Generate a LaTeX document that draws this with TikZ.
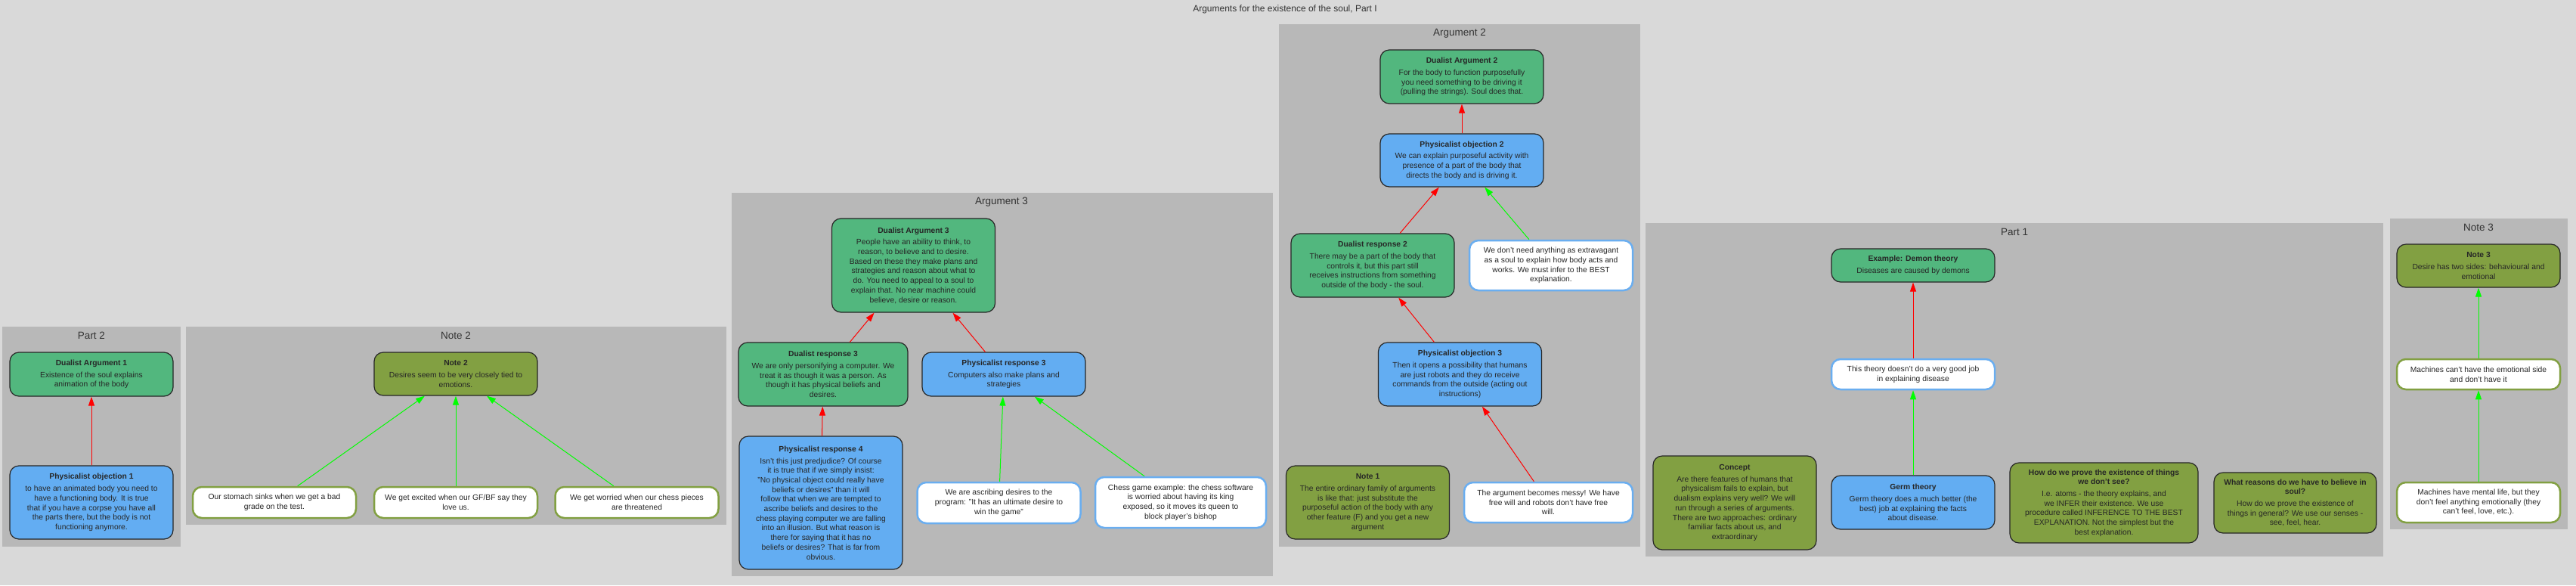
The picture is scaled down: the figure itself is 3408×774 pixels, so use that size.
\documentclass[tikz,border=0pt]{standalone}
\usepackage{fontspec}
\setmainfont{Liberation Sans}
\usepackage{tikz}
\usetikzlibrary{positioning,shapes,arrows.meta}

\definecolor{pagegray}{HTML}{D9D9D9}
\definecolor{panelgray}{HTML}{B8B8B8}
\definecolor{dualgreen}{HTML}{52B77E}
\definecolor{physblue}{HTML}{63ADF2}
\definecolor{noteolive}{HTML}{82A042}
\definecolor{edgeblue}{HTML}{6AAEF0}
\definecolor{attackred}{HTML}{FF0000}
\definecolor{supportgreen}{HTML}{00FF00}

\newcommand{\boxtitle}[1]{{\bfseries #1}\\[3pt]}

\begin{document}
\begin{tikzpicture}[x=1pt, y=-1pt,
box/.style={rectangle, rounded corners=12pt, align=center, inner sep=3pt, minimum width=216, font=\fontsize{10.3}{12.7}\selectfont, text=black!85},
dualist/.style={box, fill=dualgreen, draw=black!85, line width=1.2pt},
physicalist/.style={box, fill=physblue, draw=black!85, line width=1.2pt},
remark/.style={box, fill=noteolive, draw=black!85, line width=1.2pt},
claimblue/.style={box, fill=white, draw=edgeblue, line width=2.5pt},
claimolive/.style={box, fill=white, draw=noteolive, line width=2.5pt},
heading/.style={font=\fontsize{13.5}{15}\selectfont, text=black!80},
attack/.style={-{Triangle[length=12pt,width=8pt]}, attackred, line width=1pt},
support/.style={-{Triangle[length=12pt,width=8pt]}, supportgreen, line width=1pt},
]
%Page
\fill[pagegray] (0,0) rectangle (3408,774);
\useasboundingbox (0,0) rectangle (3408,774);
\node[font=\fontsize{12}{14}\selectfont, text=black!80] (title) at (1700,12) {Arguments for the existence of the soul, Part I};

%Panels
\fill[panelgray] (3,432) rectangle (239,723);
\fill[panelgray] (246,432) rectangle (961,694);
\fill[panelgray] (968,255) rectangle (1684,762);
\fill[panelgray] (1692,32) rectangle (2170,723);
\fill[panelgray] (2177,295) rectangle (3153,736);
\fill[panelgray] (3162,289) rectangle (3397,700);
\node[heading] (part2) at (121,444) {Part 2};
\node[heading] (note2t) at (603,444) {Note 2};
\node[heading] (arg3) at (1325,267) {Argument 3};
\node[heading] (arg2) at (1931,44) {Argument 2};
\node[heading] (part1) at (2665,307) {Part 1};
\node[heading] (note3t) at (3279,301) {Note 3};

%Part 2
\node[dualist, minimum height=58] (da1) at (121,495) {\boxtitle{Dualist Argument 1}Existence of the soul explains\\animation of the body};
\node[physicalist, minimum height=97] (po1) at (121,664.5) {\boxtitle{Physicalist objection 1}to have an animated body you need to\\have a functioning body. It is true\\that if you have a corpse you have all\\the parts there, but the body is not\\functioning anymore.};

%Note 2
\node[remark, minimum height=57] (n2) at (603,494.5) {\boxtitle{Note 2}Desires seem to be very closely tied to\\emotions.};
\node[claimolive, minimum height=41] (stomach) at (363,664.5) {Our stomach sinks when we get a bad\\grade on the test.};
\node[claimolive, minimum height=41] (excited) at (603,664.5) {We get excited when our GF/BF say they\\love us.};
\node[claimolive, minimum height=41] (worried) at (842.5,664.5) {We get worried when our chess pieces\\are threatened};

%Argument 3
\node[dualist, minimum height=124] (da3) at (1208.5,351) {\boxtitle{Dualist Argument 3}People have an ability to think, to\\reason, to believe and to desire.\\Based on these they make plans and\\strategies and reason about what to\\do. You need to appeal to a soul to\\explain that. No near machine could\\believe, desire or reason.};
\node[dualist, minimum height=84, minimum width=224] (dr3) at (1089,495) {\boxtitle{Dualist response 3}We are only personifying a computer. We\\treat it as though it was a person. As\\though it has physical beliefs and\\desires.};
\node[physicalist, minimum height=58] (pr3) at (1328,495) {\boxtitle{Physicalist response 3}Computers also make plans and\\strategies};
\node[physicalist, minimum height=176] (pr4) at (1086,665) {\boxtitle{Physicalist response 4}Isn't this just predjudice? Of course\\it is true that if we simply insist:\\"No physical object could really have\\beliefs or desires" than it will\\follow that when we are tempted to\\ascribe beliefs and desires to the\\chess playing computer we are falling\\into an illusion. But what reason is\\there for saying that it has no\\beliefs or desires? That is far from\\obvious.};
\node[claimblue, minimum height=54] (ascribe) at (1321.5,665) {We are ascribing desires to the\\program: "It has an ultimate desire to\\win the game"};
\node[claimblue, minimum height=67, minimum width=226] (chess) at (1562,664.5) {Chess game example: the chess software\\is worried about having its king\\exposed, so it moves its queen to\\block player's bishop};

%Argument 2
\node[dualist, minimum height=71] (da2) at (1934,101.5) {\boxtitle{Dualist Argument 2}For the body to function purposefully\\you need something to be driving it\\(pulling the strings). Soul does that.};
\node[physicalist, minimum height=70] (po2) at (1934,212) {\boxtitle{Physicalist objection 2}We can explain purposeful activity with\\presence of a part of the body that\\directs the body and is driving it.};
\node[dualist, minimum height=84] (dr2) at (1816,351) {\boxtitle{Dualist response 2}There may be a part of the body that\\controls it, but this part still\\receives instructions from something\\outside of the body - the soul.};
\node[claimblue, minimum height=66] (extrav) at (2052,351) {We don't need anything as extravagant\\as a soul to explain how body acts and\\works. We must infer to the BEST\\explanation.};
\node[physicalist, minimum height=84] (po3) at (1931.5,495) {\boxtitle{Physicalist objection 3}Then it opens a possibility that humans\\are just robots and they do receive\\commands from the outside (acting out\\instructions)};
\node[remark, minimum height=97] (n1) at (1809.5,664.5) {\boxtitle{Note 1}The entire ordinary family of arguments\\is like that: just substitute the\\purposeful action of the body with any\\other feature (F) and you get a new\\argument};
\node[claimblue, minimum height=53, minimum width=223] (messy) at (2048.5,664.5) {The argument becomes messy! We have\\free will and robots don't have free\\will.};

%Part 1
\node[dualist, minimum height=44] (demon) at (2531,351) {\boxtitle{Example: Demon theory}Diseases are caused by demons};
\node[claimblue, minimum height=40] (poorjob) at (2531,495) {This theory doesn't do a very good job\\in explaining disease};
\node[physicalist, minimum height=71] (germ) at (2531,664.5) {\boxtitle{Germ theory}Germ theory does a much better (the\\best) job at explaining the facts\\about disease.};
\node[remark, minimum height=124] (concept) at (2295,665) {\boxtitle{Concept}Are there features of humans that\\physicalism fails to explain, but\\dualism explains very well? We will\\run through a series of arguments.\\There are two approaches: ordinary\\familiar facts about us, and\\extraordinary};
\node[remark, minimum height=106, minimum width=249] (prove) at (2783.5,665) {{\bfseries How do we prove the existence of things}\\\boxtitle{we don't see?}I.e. atoms - the theory explains, and\\we INFER their existence. We use\\procedure called INFERENCE TO THE BEST\\EXPLANATION. Not the simplest but the\\best explanation.};
\node[remark, minimum height=80, minimum width=215] (reasons) at (3036.5,665) {{\bfseries What reasons do we have to believe in}\\\boxtitle{soul?}How do we prove the existence of\\things in general? We use our senses -\\see, feel, hear.};

%Note 3
\node[remark, minimum height=57] (n3) at (3279,351.5) {\boxtitle{Note 3}Desire has two sides: behavioural and\\emotional};
\node[claimolive, minimum height=40] (noemo) at (3279,495) {Machines can't have the emotional side\\and don't have it};
\node[claimolive, minimum height=53] (mental) at (3279,664.5) {Machines have mental life, but they\\don't feel anything emotionally (they\\can't feel, love, etc.).};

%Connections
\draw[attack] (po1) -- (da1);
\draw[support] (stomach) -- (n2);
\draw[support] (excited) -- (n2);
\draw[support] (worried) -- (n2);
\draw[attack] (dr3) -- (da3);
\draw[attack] (pr3) -- (da3);
\draw[attack] (pr4) -- (dr3);
\draw[support] (ascribe) -- (pr3);
\draw[support] (chess) -- (pr3);
\draw[attack] (po2) -- (da2);
\draw[attack] (dr2) -- (po2);
\draw[support] (extrav) -- (po2);
\draw[attack] (po3) -- (dr2);
\draw[attack] (messy) -- (po3);
\draw[attack] (poorjob) -- (demon);
\draw[support] (germ) -- (poorjob);
\draw[support] (noemo) -- (n3);
\draw[support] (mental) -- (noemo);
\end{tikzpicture}
\end{document}
